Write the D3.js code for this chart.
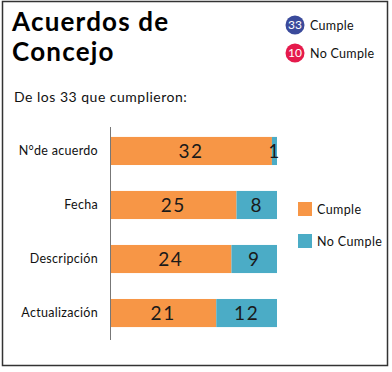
<!DOCTYPE html>
<html>
<head>
<meta charset="utf-8">
<script src="https://cdn.jsdelivr.net/npm/d3@7"></script>
<style>
  body { margin: 0; background: #fff; }
  text { font-family: Lato, "DejaVu Sans", sans-serif; }
</style>
</head>
<body>
<svg id="chart"></svg>
<script>
// data
const categories = ["N°de acuerdo", "Fecha", "Descripción", "Actualización"];
const cumple = [32, 25, 24, 21];
const noCumple = [1, 8, 9, 12];
const totals = [{label: "Cumple", value: 33, color: "#3a4a9b"}, {label: "No Cumple", value: 10, color: "#e51a4c"}];
const seriesNames = ["Cumple", "No Cumple"];
const colors = ["#f79646", "#4bacc6"];

const width = 392, height = 372;

const svg = d3.select('#chart')
    .attr('width', width)
    .attr('height', height);

// frame
svg.append('rect')
    .attr('x', 2.5).attr('y', 1.5)
    .attr('width', 385).attr('height', 364)
    .attr('fill', 'none')
    .attr('stroke', '#333')
    .attr('stroke-width', 1.5);

// title
const title = svg.append('text')
    .attr('x', 12)
    .attr('font-size', 26)
    .attr('font-weight', 'bold')
    .attr('letter-spacing', 1.2)
    .attr('fill', '#000');
title.append('tspan').attr('x', 12).attr('y', 31).text('Acuerdos de');
title.append('tspan').attr('x', 12).attr('y', 61).text('Concejo');

// totals badges
const badge = svg.selectAll('.badge')
    .data(totals)
    .enter()
    .append('g')
    .attr('transform', (d, i) => 'translate(295,' + (25 + i * 28) + ')');
badge.append('circle').attr('r', 9.5).attr('fill', d => d.color);
badge.append('text')
    .attr('text-anchor', 'middle')
    .attr('dy', '0.36em')
    .attr('font-size', 12)
    .attr('fill', '#fff')
    .text(d => d.value);
badge.append('text')
    .attr('x', 15)
    .attr('dy', '0.36em')
    .attr('font-size', 12.5)
    .attr('letter-spacing', 0.3)
    .attr('fill', '#111')
    .text(d => d.label);

svg.append('text')
    .attr('x', 14).attr('y', 102)
    .attr('font-size', 14)
    .attr('letter-spacing', 0.5)
    .attr('fill', '#111')
    .text('De los 33 que cumplieron:');

// scales
const x = d3.scaleLinear()
    .domain([0, 33])
    .range([110, 277]);

const y = d3.scaleBand()
    .domain(categories)
    .range([111, 353])
    .paddingInner(0.48)
    .paddingOuter(0.48);

const rows = categories.map((c, i) => ({cat: c, vals: [cumple[i], noCumple[i]]}));
const stack = d3.stack().keys([0, 1])(rows.map(r => r.vals));

// bars
const layer = svg.selectAll('.layer')
    .data(stack)
    .enter()
    .append('g')
    .attr('fill', (d, i) => colors[i]);

layer.selectAll('rect')
    .data(d => d)
    .enter()
    .append('rect')
    .attr('x', d => x(d[0]))
    .attr('y', (d, i) => y(categories[i]))
    .attr('width', d => x(d[1]) - x(d[0]))
    .attr('height', y.bandwidth());

layer.selectAll('text')
    .data(d => d)
    .enter()
    .append('text')
    .attr('x', d => (x(d[0]) + x(d[1])) / 2)
    .attr('y', (d, i) => y(categories[i]) + y.bandwidth() / 2)
    .attr('dy', '0.36em')
    .attr('text-anchor', 'middle')
    .attr('font-size', 19)
    .attr('letter-spacing', 1.5)
    .attr('fill', '#1a1a1a')
    .text(d => d[1] - d[0]);

// category axis
const yAxis = svg.append('g')
    .attr('transform', 'translate(110,0)')
    .call(d3.axisLeft(y).tickSize(0).tickPadding(12));
yAxis.select('.domain').remove();
yAxis.selectAll('text')
    .attr('font-size', 12.5)
    .attr('letter-spacing', 0.3)
    .attr('font-family', 'Lato, "DejaVu Sans", sans-serif')
    .attr('fill', '#111');

svg.append('line')
    .attr('x1', 110.5).attr('x2', 110.5)
    .attr('y1', 127).attr('y2', 340)
    .attr('stroke', '#777')
    .attr('stroke-width', 1);

// legend
const legend = svg.selectAll('.legend')
    .data(seriesNames)
    .enter()
    .append('g')
    .attr('transform', (d, i) => 'translate(298,' + (202 + i * 32) + ')');
legend.append('rect')
    .attr('width', 14).attr('height', 14)
    .attr('fill', (d, i) => colors[i]);
legend.append('text')
    .attr('x', 19).attr('y', 7)
    .attr('dy', '0.36em')
    .attr('font-size', 12.5)
    .attr('letter-spacing', 0.4)
    .attr('fill', '#111')
    .text(d => d);
</script>
</body>
</html>
